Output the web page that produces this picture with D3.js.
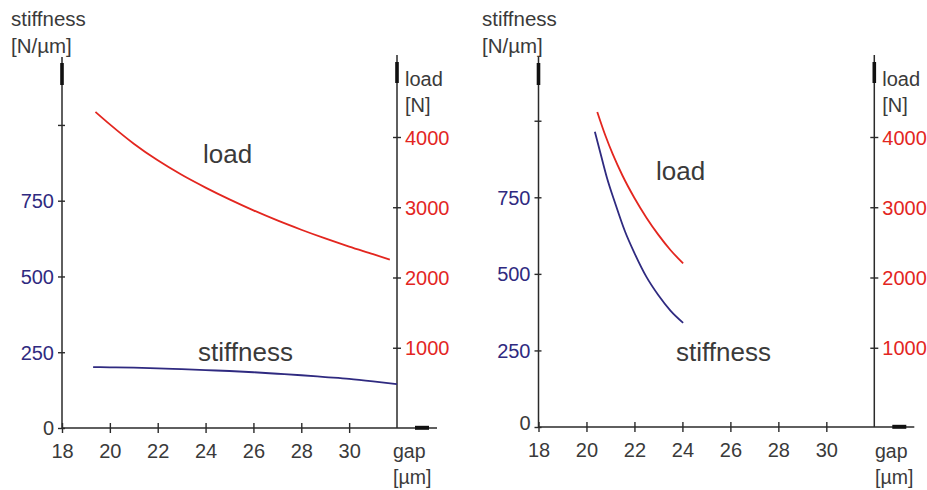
<!DOCTYPE html>
<html>
<head>
<meta charset="utf-8">
<script src="https://cdn.jsdelivr.net/npm/d3@7"></script>
<style>
  body { margin: 0; background: #fff; }
  text { font-family: "Liberation Sans", Arial, sans-serif; }
</style>
</head>
<body>
<svg id="chart" width="927" height="490"></svg>
<script>
// axis ticks
const gapTicks = [18, 20, 22, 24, 26, 28, 30];
const stiffTicks = [0, 250, 500, 750, 1000];
const stiffLabels = [0, 250, 500, 750];
const loadTicks = [1000, 2000, 3000, 4000];

// left diagram
const leftLoadGap = [19.4, 20, 21, 22, 23, 24, 25, 26, 27, 28, 29, 30, 31, 31.7];
const leftLoad = [4357, 4180, 3905, 3668, 3462, 3280, 3112, 2956, 2812, 2680, 2556, 2440, 2332, 2255];
const leftStiffGap = [19.3, 20, 21, 22, 23, 24, 25, 26, 27, 28, 29, 30, 31, 32];
const leftStiff = [201, 200, 199, 197, 194, 191, 188, 184, 179, 174, 168, 162, 154, 145];

// right diagram
const rightLoadGap = [20.45, 20.8, 21.1, 21.5, 22, 22.5, 23, 23.5, 24.03];
const rightLoad = [4357, 4010, 3752, 3452, 3132, 2852, 2607, 2392, 2200];
const rightStiffGap = [20.35, 20.6, 20.85, 21.2, 21.6, 22, 22.5, 23, 23.5, 24.03];
const rightStiff = [964, 889, 815, 730, 640, 568, 490, 430, 380, 340];

const RED = "#e3261f";
const BLUE = "#2f2a80";
const INK = "#2a2a2a";
const GREY = "#3a3a3a";

const svg = d3.select("#chart");

function drawPanel(cfg) {
	const g = svg.append("g");

	const x = d3.scaleLinear().domain([18, 32]).range([cfg.x0, cfg.x1]);
	const yS = d3.scaleLinear().domain([0, 750]).range([cfg.y0, cfg.y750]);
	const yL = d3.scaleLinear().domain([0, 4000]).range([418, 137]);

	// axis lines
	g.append("line").attr("x1", cfg.x0).attr("x2", cfg.x0)
		.attr("y1", cfg.y0).attr("y2", 57)
		.attr("stroke", INK).attr("stroke-width", 1.5);
	g.append("line").attr("x1", cfg.x1).attr("x2", cfg.x1)
		.attr("y1", cfg.y0).attr("y2", 55)
		.attr("stroke", INK).attr("stroke-width", 1.5);
	g.append("line").attr("x1", cfg.x0).attr("x2", cfg.x1 + 40)
		.attr("y1", cfg.y0).attr("y2", cfg.y0)
		.attr("stroke", INK).attr("stroke-width", 1.5);

	// arrow marks
	g.append("rect").attr("x", cfg.x0 - 1.8).attr("y", 63).attr("width", 3.6).attr("height", 22).attr("fill", "#111");
	g.append("rect").attr("x", cfg.x1 - 1.8).attr("y", 62).attr("width", 3.6).attr("height", 21).attr("fill", "#111");
	g.append("rect").attr("x", cfg.x1 + 18).attr("y", cfg.y0 - 2.2).attr("width", 14).attr("height", 4).attr("fill", "#111");

	// x axis
	const xAxis = g.append("g")
		.attr("transform", `translate(0,${cfg.y0})`)
		.call(d3.axisBottom(x).tickValues(gapTicks).tickSize(5).tickPadding(11).tickFormat(d3.format("d")));
	xAxis.select(".domain").remove();
	xAxis.selectAll("line").attr("y1", -5).attr("stroke", INK).attr("stroke-width", 1.4);
	xAxis.selectAll("text").attr("fill", GREY).style("font-size", "20px");

	// stiffness axis
	const sAxis = g.append("g")
		.attr("transform", `translate(${cfg.x0},0)`)
		.call(d3.axisLeft(yS).tickValues(stiffTicks).tickSize(4).tickPadding(4)
			.tickFormat(d => stiffLabels.includes(d) ? d : ""));
	sAxis.select(".domain").remove();
	sAxis.selectAll("line").attr("x1", 3).attr("stroke", INK).attr("stroke-width", 1.4);
	sAxis.selectAll("text").style("font-size", "20px")
		.attr("fill", d => d === 0 ? GREY : BLUE)
		.attr("dy", d => d === 0 ? cfg.zeroDy : "0.34em");

	// load axis
	const lAxis = g.append("g")
		.attr("transform", `translate(${cfg.x1},0)`)
		.call(d3.axisRight(yL).tickValues(loadTicks).tickSize(4).tickPadding(4).tickFormat(d3.format("d")));
	lAxis.select(".domain").remove();
	lAxis.selectAll("line").attr("x1", -4).attr("stroke", INK).attr("stroke-width", 1.4);
	lAxis.selectAll("text").attr("fill", RED).style("font-size", "20px").attr("dy", "0.36em");

	// axis titles
	const title = (tx, ty, s, size) => g.append("text")
		.attr("x", tx).attr("y", ty).attr("fill", GREY)
		.style("font-size", size + "px").text(s);
	title(cfg.titleX, 26, "stiffness", 20.5);
	title(cfg.titleX, 53, "[N/\u00b5m]", 20.5);
	title(cfg.x1 + 8, 86, "load", 20);
	title(cfg.x1 + 8, 112, "[N]", 20);
	title(cfg.gapX, 458, "gap", 19.5);
	title(cfg.gapX, 484, "[\u00b5m]", 19.5);

	// curves
	const line = d3.line().curve(d3.curveMonotoneX);
	const loadPts = cfg.loadGap.map((v, i) => [x(v), yL(cfg.load[i])]);
	const stiffPts = cfg.stiffGap.map((v, i) => [x(v), yS(cfg.stiff[i])]);
	g.append("path").attr("d", line(stiffPts))
		.attr("fill", "none").attr("stroke", BLUE).attr("stroke-width", 1.8);
	g.append("path").attr("d", line(loadPts))
		.attr("fill", "none").attr("stroke", RED).attr("stroke-width", 1.8);

	// curve labels
	g.append("text").attr("x", cfg.loadLabel[0]).attr("y", cfg.loadLabel[1])
		.attr("fill", GREY).style("font-size", "26px").text("load");
	g.append("text").attr("x", cfg.stiffLabel[0]).attr("y", cfg.stiffLabel[1])
		.attr("fill", GREY).style("font-size", "26px").text("stiffness");
}

drawPanel({
	x0: 62, x1: 397, y0: 428, y750: 200.7,
	titleX: 11, gapX: 393, zeroDy: "0.32em",
	loadGap: leftLoadGap, load: leftLoad,
	stiffGap: leftStiffGap, stiff: leftStiff,
	loadLabel: [203, 163], stiffLabel: [198, 361]
});

drawPanel({
	x0: 538.5, x1: 874.3, y0: 427, y750: 197.3,
	titleX: 482, gapX: 875, zeroDy: "0.1em",
	loadGap: rightLoadGap, load: rightLoad,
	stiffGap: rightStiffGap, stiff: rightStiff,
	loadLabel: [656, 180], stiffLabel: [676, 361]
});
</script>
</body>
</html>
